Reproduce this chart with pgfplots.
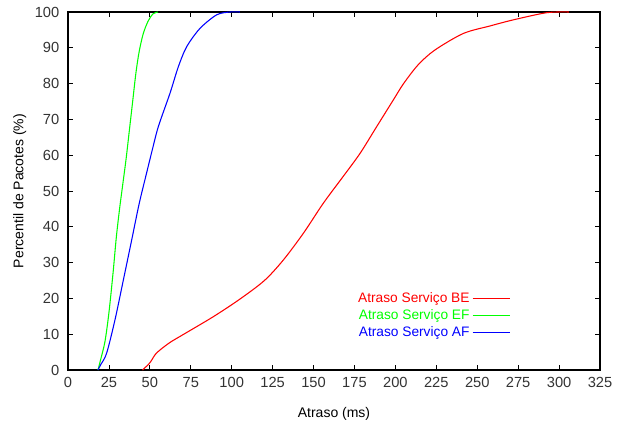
\documentclass[border=0pt]{standalone}
\usepackage{fontspec}
\setmainfont{Liberation Sans}
\usepackage{pgfplots}
\pgfplotsset{compat=1.18}
\definecolor{gpred}{RGB}{255,0,0}
\definecolor{gpgreen}{RGB}{0,255,0}
\definecolor{gpblue}{RGB}{0,0,255}
\begin{document}
\begin{tikzpicture}
\begin{axis}[
  scale only axis,
  width=399pt, height=268.5pt,
  xmin=0, xmax=325, ymin=0, ymax=100,
  xtick={0,25,...,325}, ytick={0,10,...,100},
  tick align=inside, major tick length=3.5pt,
  tick style={black, line width=0.6pt},
  axis line style={line width=0.8pt},
  /pgf/number format/assume math mode=true,
  ticklabel style={font=\fontsize{11}{13}\selectfont, text=black!80},
  xticklabel style={yshift=-2pt},
  yticklabel style={xshift=-3pt},
  label style={font=\fontsize{10.5}{12}\selectfont},
  xlabel={Atraso (ms)},
  ylabel={Percentil de Pacotes (\%)},
  xlabel style={yshift=-8pt},
  ylabel style={yshift=-0.5pt},
  legend plot pos=right,
  legend cell align=right,
  legend style={draw=none, fill=none, at={(0.84,0.152)}, anchor=east,
    font=\fontsize{10.3}{12}\selectfont, row sep=0pt},
  legend image code/.code={\draw[#1] (0pt,0pt) -- (28pt,0pt);},
]
\addplot[gpred, line width=0.8pt, smooth] coordinates {
(45.5,0) (50,2) (54,4.7) (62,7.6) (70,9.8) (88.8,14.9) (105,19.8)
(120,25) (131.5,30.7) (143.8,38.2) (156,46.6) (168,54) (178.4,60.5)
(188.6,68) (198.7,75.4) (205,80) (214,85.3) (224.2,89.4) (241.5,94)
(257.8,96.1) (272,97.8) (292.4,99.8) (306,100)
};
\addlegendentry{\textcolor{gpred}{Atraso Serviço BE}}
\addplot[gpgreen, line width=0.8pt, smooth] coordinates {
(18.3,0) (20,3) (22.6,8) (25,16) (27.5,27) (29.5,37) (31.5,45) (33.5,52)
(35.5,59) (37.5,67) (39.5,75) (41.5,83) (43.5,89) (46,94) (49,97.5)
(52,99.5) (55,100)
};
\addlegendentry{\textcolor{gpgreen}{Atraso Serviço EF}}
\addplot[gpblue, line width=0.8pt, smooth] coordinates {
(18.3,0) (20,1.5) (23.6,4.7) (28.7,14) (33.8,25.1) (38.9,36.3) (43.5,46.5)
(48,55) (51.5,61.5) (55.2,68) (62.3,77.3) (67.4,84.7) (72.5,90.3)
(80.6,95.4) (90.8,99.2) (99,100) (105,100)
};
\addlegendentry{\textcolor{gpblue}{Atraso Serviço AF}}
\end{axis}
\pgfresetboundingbox
\path ([shift={(-51pt,-41.25pt)}]current axis.south west) rectangle ([shift={(12.75pt,9pt)}]current axis.north east);
\end{tikzpicture}
\end{document}
